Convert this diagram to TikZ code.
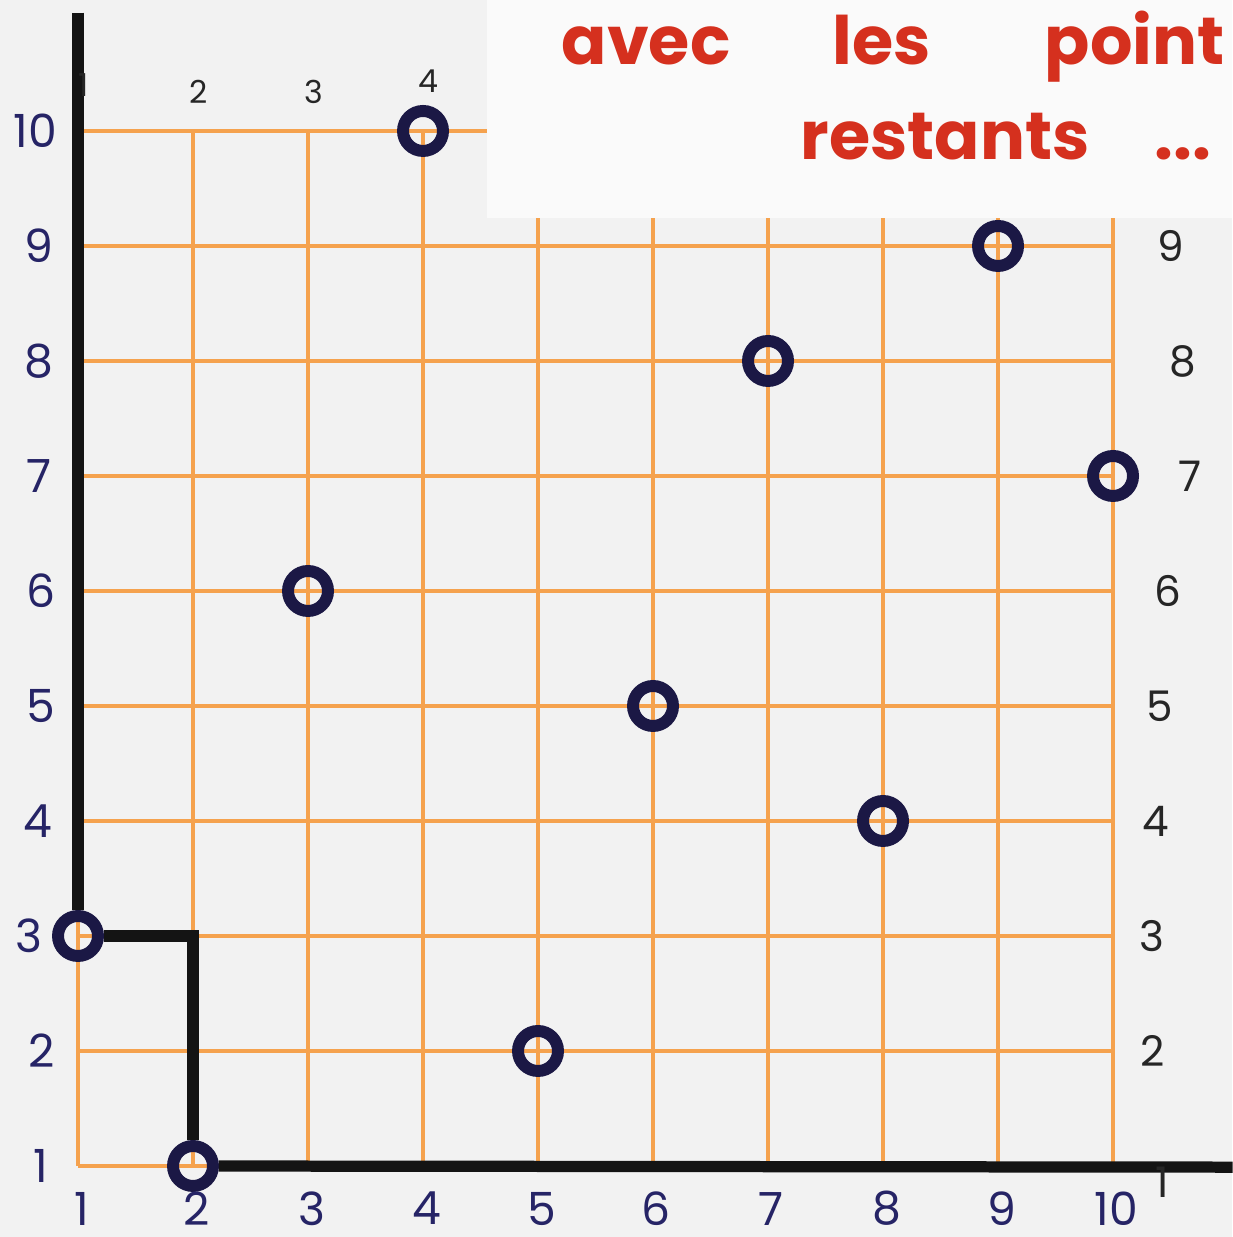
\documentclass[tikz,border=0pt]{standalone}
\usepackage{fontspec}
\setmainfont{Poppins}
\definecolor{paper}{HTML}{F2F2F2}
\definecolor{patch}{HTML}{FAFAFA}
\definecolor{grille}{HTML}{F5A24E}
\definecolor{encre}{HTML}{262466}
\definecolor{rond}{HTML}{1B1845}
\definecolor{rouge}{HTML}{D5301E}
\tikzset{fig/.style={x=1.15cm,y=1.15cm},
  grid/.style={grille,line width=.9pt},
  axe/.style={black!92,line width=3.2pt},
  pt/.style={circle,draw=rond,line width=3.4pt,minimum size=.4cm,inner sep=0pt},
  lab/.style={encre,font=\fontsize{13}{13}\selectfont,inner sep=0pt},
  labd/.style={black!85,font=\fontsize{12}{12}\selectfont,inner sep=0pt},
  labh/.style={black!85,font=\fontsize{9}{9}\selectfont,inner sep=0pt},
  note/.style={rouge,font=\fontsize{19}{19}\selectfont\bfseries,anchor=base west,inner sep=0pt}}

\begin{document}
\begin{tikzpicture}[fig]
  \fill[paper] (0.3217,0.3826) rectangle (11.0348,11.1391);
  \useasboundingbox (0.3217,0.3826) rectangle (11.0348,11.1391);
  \fill[patch] (4.557,9.243) rectangle (11.0348,11.1391);
  % grille
  \foreach \i in {1,...,4}{\draw[grid] (\i,1)--(\i,10);}
  \foreach \i in {5,...,10}{\draw[grid] (\i,1)--(\i,9.243);}
  \foreach \j in {1,...,9}{\draw[grid] (1,\j)--(10,\j);}
  \draw[grid] (1,10)--(4.557,10);
  % points
  \foreach \x/\y in {1/3,2/1,3/6,4/10,5/2,6/5,7/8,8/4,9/9,10/7}{\node[pt] (p\x\y) at (\x,\y) {};}
  % axes et escalier
  \coordinate (ytop) at (1,11.03);
  \coordinate (xend) at (11.04,.99);
  \draw[axe] (ytop) -- (p13);
  \draw[axe] (p13) -| (p21);
  \draw[axe] (p21) -- (xend);
  % graduations
  \foreach \j/\x in {10/0.63,9/0.66,8/0.66,7/0.66,6/0.68,5/0.68,4/0.65,3/0.57,2/0.68,1/0.68}{\node[lab] (g\j) at (\x,\j) {\j};}
  \foreach \i in {1,...,10}{\node[lab] (b\i) at (\i+.03,.63) {\i};}
  \foreach \j/\x in {9/10.5,8/10.61,7/10.67,6/10.48,5/10.41,4/10.37,3/10.34,2/10.34}{\node[labd] (d\j) at (\x,\j) {\j};}
  \node[labd] (d1) at (10.43,.86) {1};
  \foreach \i/\y in {1/10.40,2/10.34,3/10.34,4/10.43}{\node[labh] (h\i) at (\i+.05,\y) {\i};}
  % texte
  \node[note] (avec) at (5.2,10.574) {avec};
  \node[note] (les) at (7.557,10.574) {les};
  \node[note] (point) at (9.4,10.574) {point};
  \node[note] (restants) at (7.278,9.748) {restants};
  \node[note] (dots) at (10.357,9.748) {...};
\end{tikzpicture}
\end{document}
